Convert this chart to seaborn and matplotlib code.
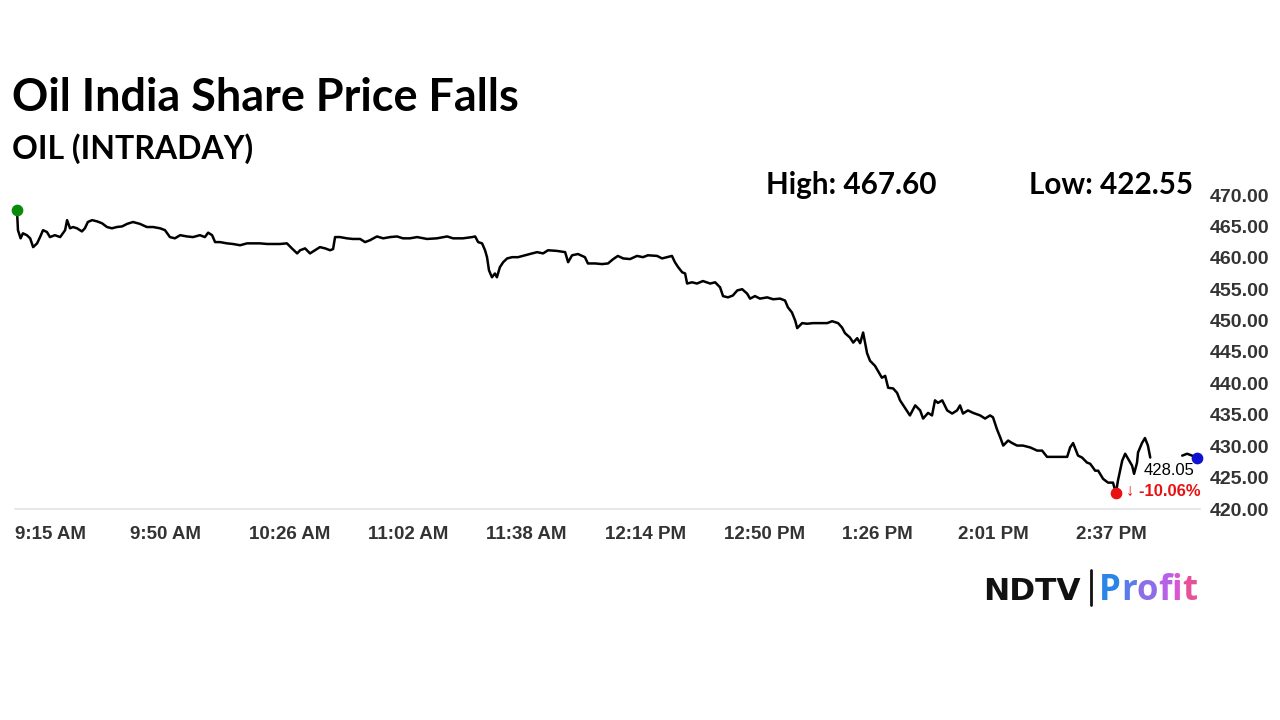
import matplotlib
matplotlib.use("Agg")
import matplotlib.pyplot as plt
import numpy as np
import pandas as pd
import seaborn as sns

# minutes after 9:15 AM, price
minutes = [
    0.6, 0.9, 1.7, 2.4, 3.6, 4.6, 5.5, 6.7, 7.6, 8.5, 9.7, 10.6, 12.1, 13.7, 15.2, 15.8,
    16.7, 17.6, 18.8, 20.3, 21.2, 22.1, 23.4, 24.9, 26.4, 27.9, 29.4, 30.9, 32.5, 34.0,
    35.8, 37.9, 40.0, 41.9, 44.0, 45.5, 47.0, 48.5, 50.1, 52.2, 54.0, 56.1, 57.6, 58.6,
    59.8, 60.7, 62.2, 64.3, 66.1, 68.3, 70.4, 72.2, 74.3, 76.5, 78.3, 80.4, 82.5, 84.0,
    85.6, 86.5, 88.0, 89.5, 91.0, 92.5, 94.1, 95.6, 96.5, 97.1, 98.6, 100.7, 102.5, 104.7,
    106.2, 107.7, 109.8, 111.7, 113.8, 115.9, 117.7, 119.8, 122.0, 125.0, 128.0, 131.1,
    132.9, 135.9, 138.7, 139.6, 140.5, 141.7, 142.6, 143.2, 143.8, 144.7, 145.6, 146.2,
    147.1, 148.1, 149.3, 150.8, 152.6, 154.7, 156.9, 158.4, 160.2, 161.7, 164.4, 166.9,
    167.8, 169.0, 170.8, 172.9, 173.8, 176.0, 178.1, 179.9, 181.5, 182.9, 184.5, 186.6,
    188.7, 190.5, 192.0, 194.8, 196.3, 197.8, 199.3, 200.2, 201.2, 202.4, 203.3, 203.9,
    205.4, 206.9, 208.7, 210.9, 212.4, 213.9, 214.8, 216.3, 217.8, 219.1, 220.6, 222.1,
    223.0, 224.5, 226.0, 228.2, 230.0, 232.1, 233.6, 234.5, 235.7, 236.7, 237.3, 238.8,
    240.3, 242.1, 244.2, 246.4, 247.9, 249.7, 250.9, 251.8, 253.3, 254.3, 255.5, 256.4,
    257.3, 258.5, 259.4, 260.9, 261.8, 263.0, 264.0, 264.9, 266.4, 267.6, 268.5, 270.0,
    271.5, 273.1, 274.6, 275.5, 277.0, 278.2, 279.1, 280.0, 281.3, 282.8, 284.3, 285.8,
    286.7, 287.6, 289.1, 290.7, 292.8, 294.3, 295.8, 296.7, 297.9, 298.9, 299.8, 301.3,
    302.5, 304.0, 305.8, 308.0, 310.1, 311.6, 313.1, 316.1, 319.2, 320.1, 321.0, 321.9,
    322.5, 323.7, 325.2, 326.2, 327.7, 328.6, 330.1, 331.6, 333.1, 334.0, 334.6, 335.9,
    336.8, 337.7, 338.9, 339.5, 340.4, 340.7, 341.9, 342.8, 343.7, 344.4,
    354.1, 355.6, 357.1, 358.6,
]
prices = [
    467.6, 464.4, 463.1, 463.9, 463.6, 463.1, 461.7, 462.3, 463.3, 464.4, 464.1, 463.3, 463.6, 463.3, 464.4, 466.0,
    464.7, 464.9, 464.7, 464.2, 464.7, 465.7, 466.0, 465.8, 465.5, 464.9, 464.7, 464.9, 465.0, 465.4,
    465.7, 465.4, 464.9, 464.9, 464.7, 464.4, 463.3, 463.1, 463.6, 463.4, 463.3, 463.6, 463.3, 464.0,
    463.6, 462.5, 462.5, 462.3, 462.2, 462.0, 462.3, 462.3, 462.3, 462.2, 462.2, 462.2, 462.3, 461.5,
    460.7, 461.2, 461.5, 460.7, 461.2, 461.7, 461.5, 461.2, 461.4, 463.3, 463.3, 463.1, 463.0, 463.0,
    462.5, 462.8, 463.4, 463.1, 463.3, 463.4, 463.1, 463.1, 463.3, 463.0, 463.1, 463.4,
    463.1, 463.1, 463.3, 463.4, 462.5, 462.3, 461.2, 460.1, 458.0, 456.9, 457.5, 456.9,
    458.5, 459.3, 459.9, 460.1, 460.1, 460.4, 460.7, 460.9, 460.7, 461.2, 461.1, 460.9,
    459.3, 460.4, 460.6, 460.1, 459.1, 459.1, 459.0, 459.1, 459.8, 460.3, 459.9, 459.8,
    460.3, 460.1, 460.4, 460.3, 459.9, 460.1, 460.3, 459.3, 458.5, 457.7, 457.5, 455.9,
    456.1, 455.9, 456.3, 455.9, 456.1, 455.3, 453.9, 453.7, 454.0, 454.8, 455.0, 454.3,
    453.5, 453.9, 453.5, 453.7, 453.4, 453.5, 453.2, 452.1, 451.3, 450.0, 448.8, 449.6,
    449.5, 449.6, 449.6, 449.6, 449.9, 449.6, 448.9, 448.0, 447.3, 446.5, 447.2, 446.4,
    448.1, 444.8, 443.6, 442.8, 442.0, 440.9, 441.2, 439.3, 439.2, 438.5, 437.3, 436.1,
    434.9, 436.5, 435.7, 434.4, 435.3, 434.9, 437.3, 436.9, 437.3, 435.7, 435.2, 435.7,
    436.5, 435.2, 435.7, 435.3, 434.9, 434.4, 434.9, 434.6, 432.7, 431.4, 430.1, 430.9,
    430.5, 430.1, 430.1, 429.8, 429.3, 429.3, 428.3, 428.3, 428.3, 429.8, 430.5, 429.3,
    428.5, 428.2, 427.4, 427.2, 426.1, 426.1, 424.8, 424.2, 424.2, 422.55, 424.5, 427.7,
    428.8, 428.0, 426.9, 425.6, 427.4, 429.0, 430.5, 431.3, 430.1, 428.2,
    428.5, 428.8, 428.5, 428.05,
]
# the feed has a short gap before the close
segment = [0] * (len(minutes) - 4) + [1] * 4

tick_minutes = [0, 35, 71, 107, 143, 179, 215, 251, 286, 322, 358]
tick_labels = ["9:15 AM", "9:50 AM", "10:26 AM", "11:02 AM", "11:38 AM", "12:14 PM",
               "12:50 PM", "1:26 PM", "2:01 PM", "2:37 PM", ""]
y_ticks = [420, 425, 430, 435, 440, 445, 450, 455, 460, 465, 470]

day_high = 467.60
day_low = 422.55
last_price = 428.05
change_pct = -10.06

df = pd.DataFrame({"minute": minutes, "price": prices, "segment": segment})

sns.set_style("white")
plt.rcParams["font.family"] = ["Liberation Sans", "DejaVu Sans"]

fig = plt.figure(figsize=(12.8, 7.2), dpi=100)
W, H = 1280, 720
ax = fig.add_axes([15 / W, 1 - 509 / H, (1200 - 15) / W, (509 - 195) / H])

sns.lineplot(data=df, x="minute", y="price", units="segment", estimator=None,
             color="black", linewidth=1.8, ax=ax, legend=False)

# start / low / close markers
low_idx = int(np.argmin(prices))
ax.scatter([minutes[0]], [prices[0]], s=55, color="#0a8a0a", zorder=5, clip_on=False)
ax.scatter([minutes[low_idx]], [prices[low_idx]], s=55, color="#e81010", zorder=5, clip_on=False)
ax.scatter([minutes[-1]], [prices[-1]], s=55, color="#1010d0", zorder=5, clip_on=False)

ax.set_xlim(0, 359.5)
ax.set_ylim(420, 470)
ax.set_xticks(tick_minutes)
ax.set_xticklabels(tick_labels, ha="left", fontsize=13.5, fontweight="bold", color="#333333")
ax.set_yticks(y_ticks)
ax.set_yticklabels([f"{v:.2f}" for v in y_ticks], fontsize=14, fontweight="bold", color="#333333")
ax.yaxis.tick_right()
ax.tick_params(axis="y", length=0, pad=7)
ax.tick_params(axis="x", length=8, color="#e4e4e4", width=1, pad=4)
ax.set_xlabel("")
ax.set_ylabel("")
for s in ["top", "left", "right"]:
    ax.spines[s].set_visible(False)
ax.spines["bottom"].set_color("#e4e4e4")
ax.spines["bottom"].set_linewidth(1.2)

# last price and change labels
ax.annotate(f"{last_price:.2f}", xy=(minutes[-1], last_price), xytext=(-2, -9),
            textcoords="offset points", ha="right", va="center", fontsize=12, color="black")
ax.annotate(f"\u2193 {change_pct:.2f}%", xy=(minutes[low_idx], day_low), xytext=(7, 1),
            textcoords="offset points", ha="left", va="center", fontsize=12,
            fontweight="bold", color="#e81010")

# headings
fig.text(12 / W, 1 - 111 / H, "Oil India Share Price Falls", fontsize=32.4, fontweight="bold",
         family="Lato", va="baseline", ha="left", color="black")
fig.text(12 / W, 1 - 159 / H, "OIL (INTRADAY)", fontsize=23, fontweight="bold",
         family="Lato", va="baseline", ha="left", color="black")
fig.text(766 / W, 1 - 194 / H, f"High: {day_high:.2f}", fontsize=21.3, fontweight="bold",
         family="Lato", va="baseline", ha="left", color="black")
fig.text(1193 / W, 1 - 194 / H, f"Low: {day_low:.2f}", fontsize=21.3, fontweight="bold",
         family="Lato", va="baseline", ha="right", color="black")

# NDTV Profit logo
fig.text(983 / W, 1 - 600 / H, "NDTV", fontsize=22.5, fontweight="heavy", family="DejaVu Sans",
         va="baseline", ha="left", color="#111111")
fig.add_artist(plt.Line2D([1091 / W, 1091 / W], [1 - 570 / H, 1 - 605 / H], color="#111111", lw=2))
profit_colors = ["#2a86e6", "#5b7ce8", "#8c6ee9", "#b761e9", "#d956d4", "#e8509a"]
prev = fig.text(1099 / W, 1 - 600 / H, "P", fontsize=25, fontweight="bold", family="Open Sans",
                va="baseline", ha="left", color=profit_colors[0])
for ch, col in zip("rofit", profit_colors[1:]):
    prev = fig.add_artist(matplotlib.text.Annotation(
        ch, xy=(1, 0), xycoords=prev, va="bottom", ha="left", fontsize=25,
        fontweight="bold", family="Open Sans", color=col))

fig.savefig("out.png", dpi=100, facecolor="white")
